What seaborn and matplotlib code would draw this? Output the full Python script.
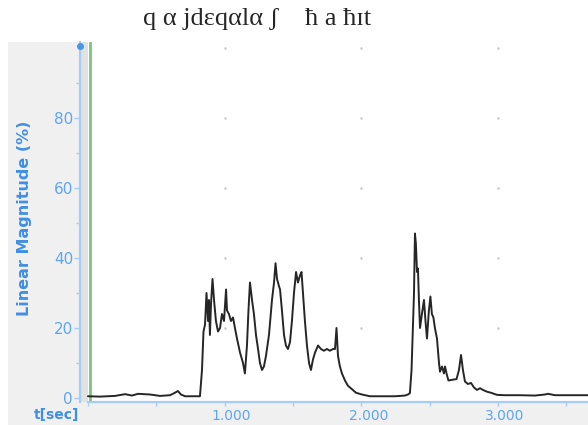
import numpy as np
import pandas as pd
import matplotlib
matplotlib.use("Agg")
import matplotlib.pyplot as plt
import matplotlib.transforms as mtransforms
from matplotlib.patches import Rectangle
import seaborn as sns

sns.set_theme(style="white")
plt.rcParams['font.family'] = ['DejaVu Sans']

title_text = "q \u03b1 jd\u025bq\u03b1l\u03b1 \u0283    \u0127 a \u0127\u026at"

# time (s) and linear magnitude (%)
t_sec = [0.000, 0.088, 0.198, 0.271, 0.322, 0.366, 0.454, 0.527, 0.600, 0.636,
         0.658, 0.680, 0.710, 0.819, 0.834, 0.845, 0.856, 0.867, 0.878, 0.885,
         0.892, 0.900, 0.911, 0.922, 0.936, 0.951, 0.966, 0.980, 0.995, 1.010,
         1.017, 1.031, 1.046, 1.061, 1.075, 1.090, 1.112, 1.134, 1.148, 1.163,
         1.174, 1.185, 1.200, 1.214, 1.229, 1.244, 1.258, 1.273, 1.287, 1.302,
         1.324, 1.346, 1.361, 1.372, 1.383, 1.397, 1.405, 1.419, 1.434, 1.448,
         1.463, 1.478, 1.492, 1.507, 1.522, 1.536, 1.551, 1.562, 1.573, 1.587,
         1.602, 1.617, 1.631, 1.646, 1.661, 1.683, 1.704, 1.726, 1.748, 1.770,
         1.792, 1.807, 1.818, 1.829, 1.843, 1.858, 1.880, 1.902, 1.931, 1.961,
         2.004, 2.063, 2.136, 2.246, 2.319, 2.341, 2.355, 2.367, 2.377, 2.385,
         2.392, 2.399, 2.407, 2.414, 2.421, 2.429, 2.443, 2.458, 2.469, 2.480,
         2.494, 2.505, 2.516, 2.527, 2.538, 2.553, 2.568, 2.575, 2.590, 2.604,
         2.612, 2.623, 2.637, 2.663, 2.696, 2.714, 2.729, 2.743, 2.758, 2.780,
         2.802, 2.824, 2.846, 2.868, 2.890, 2.919, 2.948, 2.992, 3.050, 3.160,
         3.270, 3.343, 3.365, 3.416, 3.526, 3.658]
magnitude = [0.5, 0.4, 0.6, 1.1, 0.7, 1.2, 1.0, 0.6, 0.8, 1.5,
             2.0, 1.0, 0.5, 0.5, 8, 19, 21, 30, 22, 28,
             18, 27, 34, 28, 22, 19, 20, 24, 22, 31,
             25, 24, 22, 23, 20, 17, 13, 10, 7, 15,
             25, 33, 28, 24, 18, 14, 10, 8, 9, 12,
             18, 28, 33, 38.5, 34, 32, 31, 25, 18, 15,
             14, 16, 22, 30, 36, 33, 35, 36, 30, 22,
             15, 10, 8, 11, 13, 15, 14, 13.5, 14, 13.5,
             14, 14, 20, 12, 9, 7, 5, 3.5, 2.5, 1.5,
             1, 0.5, 0.5, 0.5, 0.7, 1, 1.4, 8, 20, 30,
             47, 44, 36, 37, 28, 20, 24, 28, 22, 17,
             25, 29, 24, 23, 20, 17, 10, 7.5, 9, 7,
             9, 7, 5, 5.2, 5.4, 8, 12.3, 8, 4.7, 4,
             4.3, 3, 2.3, 2.8, 2.3, 1.8, 1.5, 0.9, 0.8, 0.8,
             0.7, 1.0, 1.2, 0.8, 0.8, 0.8]

y_major = [0, 20, 40, 60, 80]
y_minor = [10, 30, 50, 70, 90]
x_ticks = [0, 0.5, 1.0, 1.5, 2.0, 2.5, 3.0, 3.5]
x_labels = {1.0: "1.000", 2.0: "2.000", 3.0: "3.000"}
grid_x = [1.0, 2.0, 3.0]
grid_y = [20, 40, 60, 80, 100]
cursor_t = 0.015

df = pd.DataFrame({"t": t_sec, "mag": magnitude})

blue_axis = '#a6cdf8'
blue_text = '#5ea6f0'
blue_label = '#3f8fe6'

fig = plt.figure(figsize=(5.88, 4.25), dpi=100)
fig.patches.append(Rectangle((8 / 588, 0), 1, 383 / 425, transform=fig.transFigure,
                             facecolor='#f0f0f0', edgecolor='none', zorder=-10))

ax = fig.add_axes([80 / 588, 23 / 425, 508 / 588, 360 / 425])
ax.set_zorder(1)
ax.set_facecolor('white')
x_left = -8 / 136.7
ax.set_xlim(x_left, 3.658)
ax.set_ylim(-1.14, 101.7)
ax.axvspan(x_left, 0, color='#e2e2e2', lw=0, zorder=0)

gx, gy = np.meshgrid(grid_x, grid_y)
ax.scatter(gx.ravel(), gy.ravel(), s=3, color='#c4c4c4', lw=0, zorder=1)

ax.axvline(cursor_t, color='#7cc47c', lw=2, zorder=2)

sns.lineplot(data=df, x="t", y="mag", ax=ax, color='#262626', lw=1.4,
             estimator=None, zorder=3)

for s in ['top', 'right']:
    ax.spines[s].set_visible(False)
ax.spines['left'].set_color(blue_axis)
ax.spines['left'].set_linewidth(1.6)
ax.spines['bottom'].set_color(blue_axis)
ax.spines['bottom'].set_linewidth(1.6)
ax.spines['bottom'].set_bounds(0, 3.658)

ax.set_yticks(y_major)
ax.set_yticks(y_minor, minor=True)
ax.set_yticklabels([str(v) for v in y_major])
ax.tick_params(axis='y', which='major', length=4, width=1, color=blue_axis,
               labelcolor=blue_text, labelsize=11, pad=1, left=True)
ax.tick_params(axis='y', which='minor', length=3, width=1, color=blue_axis, left=True)

ax.set_xticks(x_ticks)
ax.set_xticklabels([x_labels.get(v, "") for v in x_ticks])
ax.tick_params(axis='x', which='major', length=3, width=1, color=blue_axis,
               labelcolor=blue_text, labelsize=10, pad=2, bottom=True)
offset = mtransforms.ScaledTranslation(7 / 100, 0, fig.dpi_scale_trans)
for lab in ax.get_xticklabels():
    lab.set_transform(lab.get_transform() + offset)

ax.plot([x_left], [100.5], 'o', color='#4a94e8', ms=4, clip_on=False, zorder=5)

ax.set_xlabel("")
ax.set_ylabel("Linear Magnitude (%)", color=blue_label, fontsize=11.5,
              fontweight='bold')
ax.yaxis.set_label_coords(-0.094, 0.51)

fig.text(57 / 588, 10 / 425, "t[sec]", color=blue_label, fontsize=10,
         fontweight='bold', ha='center', va='center')

fig.text(257 / 588, 1 - 19 / 425, title_text, fontsize=19,
         family=['Liberation Serif', 'DejaVu Serif'], ha='center', va='center')

fig.savefig("out.png", dpi=100)
